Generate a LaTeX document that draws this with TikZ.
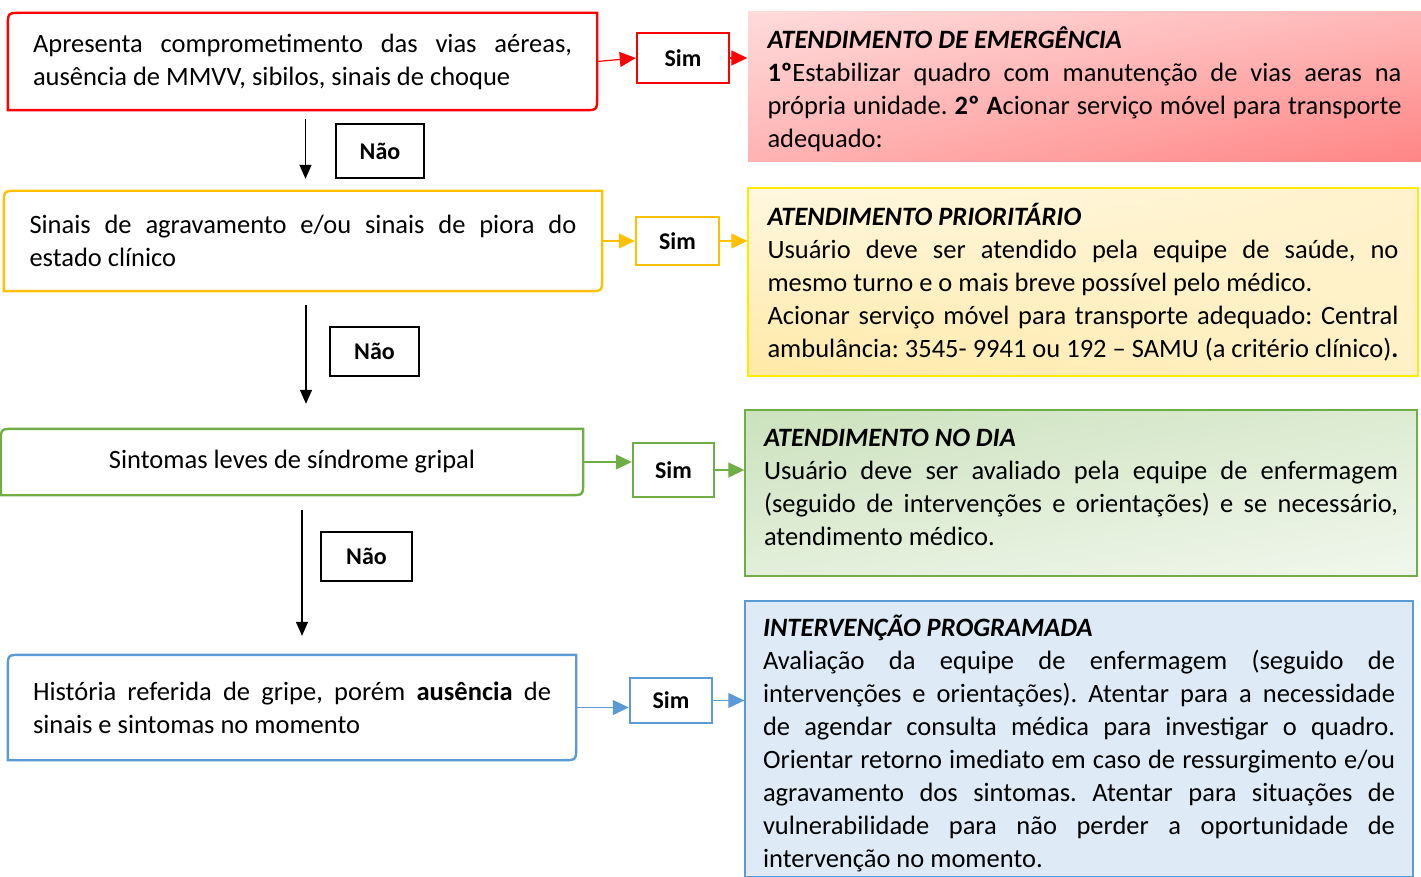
\documentclass[tikz,border=0pt]{standalone}
\usepackage{fontspec}
\setmainfont{Carlito}
\usetikzlibrary{positioning,arrows.meta,calc,shadings}
\definecolor{sigred}{HTML}{FF0000}
\definecolor{sigyellow}{HTML}{FFC000}
\definecolor{siggreen}{HTML}{70AD47}
\definecolor{sigblue}{HTML}{5B9BD5}
\definecolor{brdyellow}{HTML}{FFEA00}
\newcommand{\cutbox}[2]{%
  \draw[#2, line width=2.4pt] (#1.north east) -- ($(#1.north west)+(14,0)$)
    .. controls (#1.north west) .. ($(#1.north west)+(0,14)$)
    -- (#1.south west) -- ($(#1.south east)+(-14,0)$)
    .. controls (#1.south east) .. ($(#1.south east)+(0,-14)$) -- cycle;}
\tikzset{
  bodyfont/.style={font=\fontsize{26.5}{33}\selectfont},
  leftbox/.style={bodyfont, inner sep=0pt, align=justify},
  infobox/.style={bodyfont, inner sep=0pt, line width=1.4pt, align=justify, text height=20pt},
  tagbox/.style={draw, line width=2.4pt, inner sep=0pt, font=\fontsize{24}{28}\selectfont\bfseries},
  flow/.style={line width=1.2pt, -{Triangle[length=16pt,width=15pt]}},
  down/.style={black, line width=1.3pt, -{Triangle[length=14pt,width=12pt]}}
}
\begin{document}
\begin{tikzpicture}[x=1pt, y=-1pt]
  \useasboundingbox (0,0) rectangle (1421,877);
  \hyphenpenalty=10000 \tolerance=10000 \frenchspacing
  % perguntas
  \node[leftbox, text width=539pt, minimum width=589pt, minimum height=97pt] (q1) at (302.5,61.5)
    {Apresenta comprometimento das vias aéreas,\linebreak ausência de MMVV, sibilos, sinais de choque};
  \node[leftbox, text width=547pt, minimum width=598pt, minimum height=100pt] (q2) at (303,241)
    {Sinais de agravamento e/ou sinais de piora do\linebreak estado clínico};
  \node[leftbox, align=center, minimum width=582pt, minimum height=66pt] (q3) at (292,462)
    {Sintomas leves de síndrome gripal};
  \node[leftbox, text width=518pt, minimum width=568pt, minimum height=105pt] (q4) at (292,707.5)
    {História referida de gripe, porém \textbf{ausência} de\linebreak sinais e sintomas no momento};
  \cutbox{q1}{sigred}
  \cutbox{q2}{sigyellow}
  \cutbox{q3}{siggreen}
  \cutbox{q4}{sigblue}
  % sim / nao
  \node[tagbox, sigred, text=black, minimum width=92pt, minimum height=50pt] (s1) at (683,58) {Sim};
  \node[tagbox, sigyellow, text=black, minimum width=83pt, minimum height=48pt] (s2) at (677.5,241) {Sim};
  \node[tagbox, siggreen, text=black, minimum width=81pt, minimum height=54pt] (s3) at (673.5,470) {Sim};
  \node[tagbox, sigblue, text=black, minimum width=82pt, minimum height=45pt] (s4) at (671,700.5) {Sim};
  \node[tagbox, minimum width=88pt, minimum height=54pt] (n1) at (380,151) {Não};
  \node[tagbox, minimum width=89pt, minimum height=49pt] (n2) at (374.5,351.5) {Não};
  \node[tagbox, minimum width=91pt, minimum height=49pt] (n3) at (366.5,556.5) {Não};
  % condutas
  \node[infobox, text depth=97pt, text width=634pt, minimum width=673pt, minimum height=150pt,
        shade, upper left=red!14, upper right=red!28, lower left=red!30, lower right=red!48] (a1) at (1084.5,87)
    {\textbf{\textit{ATENDIMENTO DE EMERGÊNCIA}}\par
     \textbf{1º}Estabilizar quadro com manutenção de vias aeras na\linebreak própria unidade. \textbf{2º A}cionar serviço móvel para transporte\linebreak adequado:};
  \node[infobox, text depth=133pt, text width=631pt, minimum width=670pt, minimum height=188pt, draw=brdyellow,
        shade, upper left=sigyellow!12, upper right=sigyellow!20, lower left=sigyellow!35, lower right=sigyellow!22] (a2) at (1083,282)
    {\textbf{\textit{ATENDIMENTO PRIORITÁRIO}}\par
     Usuário deve ser atendido pela equipe de saúde, no\linebreak mesmo turno e o mais breve possível pelo médico.\par
     Acionar serviço móvel para transporte adequado: Central\linebreak ambulância: 3545- 9941 ou 192 – SAMU (a critério clínico)\textbf{.}};
  \node[infobox, text depth=113pt, text width=634pt, minimum width=672pt, minimum height=166pt, draw=siggreen,
        shade, upper left=siggreen!36, upper right=siggreen!24, lower left=siggreen!20, lower right=siggreen!10] (a3) at (1081,493)
    {\textbf{\textit{ATENDIMENTO NO DIA}}\par
     Usuário deve ser avaliado pela equipe de enfermagem\linebreak (seguido de intervenções e orientações) e se necessário,\linebreak atendimento médico.};
  \node[infobox, text depth=225pt, text width=632pt, minimum width=668pt, minimum height=276pt, draw=sigblue, fill=sigblue!20] (a4) at (1079,739)
    {\textbf{\textit{INTERVENÇÃO PROGRAMADA}}\par
     Avaliação da equipe de enfermagem (seguido de\linebreak intervenções e orientações). Atentar para a necessidade\linebreak de agendar consulta médica para investigar o quadro.\linebreak Orientar retorno imediato em caso de ressurgimento e/ou\linebreak agravamento dos sintomas. Atentar para situações de\linebreak vulnerabilidade para não perder a oportunidade de\linebreak intervenção no momento.};
  % setas
  \draw[flow, sigred] (q1.east) -- (s1.west);
  \draw[flow, sigred] (s1.east) -- (s1.east -| a1.west);
  \draw[flow, sigyellow] (q2.east) -- (s2.west);
  \draw[flow, sigyellow] (s2.east) -- (s2.east -| a2.west);
  \draw[flow, siggreen] (q3.east) -- (q3.east -| s3.west);
  \draw[flow, siggreen] (s3.east) -- (s3.east -| a3.west);
  \draw[flow, sigblue] (q4.east) -- (q4.east -| s4.west);
  \draw[flow, sigblue] (s4.east) -- (s4.east -| a4.west);
  \draw[down] ([xshift=3pt,yshift=-9pt]q1.south) -- ([xshift=3pt,yshift=12pt]q1.south |- q2.north);
  \draw[down] ([xshift=3pt,yshift=-14pt]q2.south) -- ([xshift=3pt,yshift=25pt]q2.south |- q3.north);
  \draw[down] ([xshift=10pt,yshift=-15pt]q3.south) -- ([xshift=10pt,yshift=19pt]q3.south |- q4.north);
\end{tikzpicture}
\end{document}
